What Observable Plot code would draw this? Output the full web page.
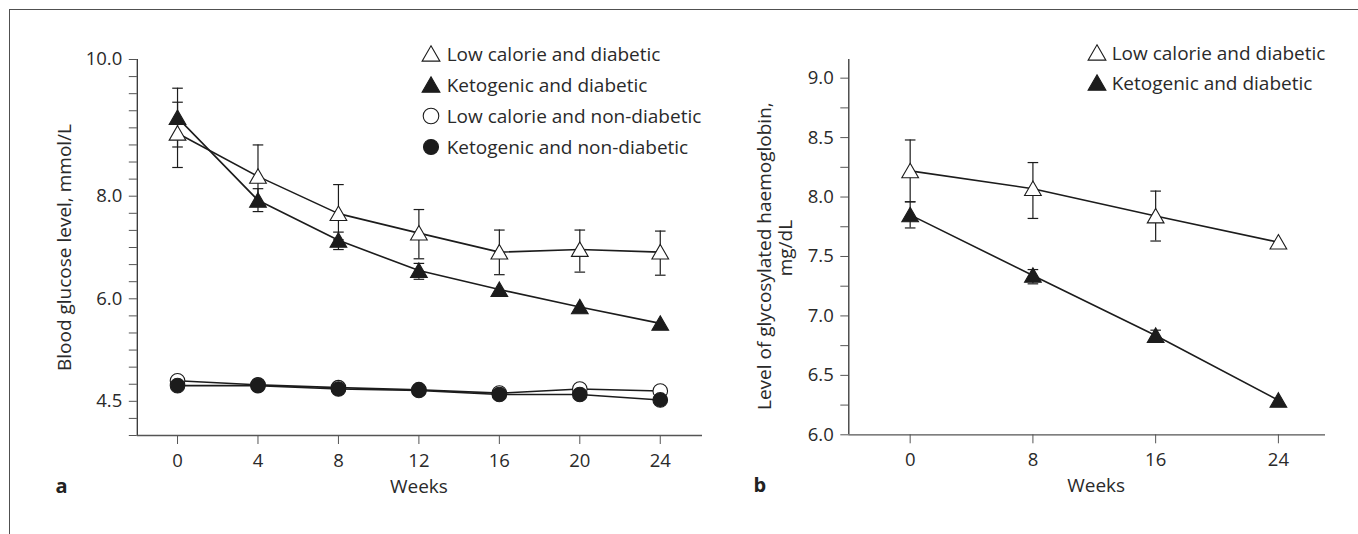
<!DOCTYPE html>
<html><head><meta charset="utf-8">
<script src="https://cdn.jsdelivr.net/npm/d3@7"></script>
<script src="https://cdn.jsdelivr.net/npm/@observablehq/plot@0.6"></script>
<style>
html,body{margin:0;padding:0;background:#fff;}
#wrap{position:relative;width:1358px;height:534px;overflow:hidden;font-family:"Open Sans",sans-serif;color:#2a2a2a;}
#frame{position:absolute;left:9px;top:9px;width:1400px;height:600px;border-top:1.5px solid #505050;border-left:1.5px solid #505050;}
.panel{position:absolute;top:0;}
.legend{position:absolute;font-size:19px;color:#2a2a2a;}
.legend .row{display:flex;align-items:center;white-space:nowrap;}
.legend svg{flex:none;overflow:visible;}
</style></head><body><div id="wrap"><div id="frame"></div></div>
<script>
// ---------- data ----------
const weeksA = [0, 4, 8, 12, 16, 20, 24];
const lcDiab     = [8.92, 8.29, 7.66, 7.28, 6.91, 6.96, 6.91];
const lcDiabLo   = [8.42, 7.83, 7.15, 6.78, 6.47, 6.52, 6.46];
const lcDiabHi   = [9.375, 8.75, 8.17, 7.74, 7.34, 7.34, 7.32];
const ketoDiab   = [9.15, 7.92, 7.14, 6.55, 6.18, 5.88, 5.64];
const ketoDiabLo = [8.72, 7.70, 6.96, 6.38, null, null, null];
const ketoDiabHi = [9.58, 8.11, 7.30, 6.69, null, null, null];
const lcNonDiab   = [4.80, 4.74, 4.70, 4.67, 4.62, 4.68, 4.65];
const ketoNonDiab = [4.73, 4.73, 4.68, 4.66, 4.60, 4.60, 4.52];

const weeksB = [0, 8, 16, 24];
const hbLc     = [8.22, 8.07, 7.84, 7.62];
const hbLcLo   = [7.96, 7.82, 7.63, null];
const hbLcHi   = [8.48, 8.29, 8.05, null];
const hbKeto   = [7.85, 7.34, 6.835, 6.29];
const hbKetoLo = [7.74, 7.27, 6.78, null];
const hbKetoHi = [7.96, 7.39, 6.88, null];

const seriesNames = ["Low calorie and diabetic", "Ketogenic and diabetic", "Low calorie and non-diabetic", "Ketogenic and non-diabetic"];

// axis ticks / labels
const yLabelsA = [4.5, 6.0, 8.0, 10.0];
const yBreaksA = [4, 6, 8, 10];           // piecewise scale breakpoints
const yMinorA = [...d3.range(4, 6, 0.25), ...[0,1,2,3,4,5].map(i => 6 + i / 3), ...d3.range(8, 10.001, 0.25)];
const yLabelsB = [6.0, 6.5, 7.0, 7.5, 8.0, 8.5, 9.0];
const yMinorB = d3.range(6, 9.001, 0.25);
const xTicksA = weeksA;
const xTicksB = weeksB;

// ---------- helpers ----------
function tidy(weeks, v, lo, hi, s) {
  return weeks.map((w, i) => ({week: w, v: v[i], lo: lo ? lo[i] : null, hi: hi ? hi[i] : null, s}));
}
const cap = {draw(ctx) { ctx.moveTo(-5.3, 0); ctx.lineTo(5.3, 0); }};
const INK = "#1c1c1c";
const AX = "#555";
const FONT = "Open Sans, sans-serif";
const FS = 19, TFS = 18.5;

function seriesMarks(d) {
  const err = d.filter(e => e.lo != null);
  return [
    Plot.line(d, {x: "week", y: "v", stroke: INK, strokeWidth: 1.6}),
    Plot.ruleX(err, {x: "week", y1: "lo", y2: "hi", stroke: INK, strokeWidth: 1.2}),
    Plot.dot(err, {x: "week", y: "lo", symbol: cap, r: 5, stroke: INK, strokeWidth: 1.2}),
    Plot.dot(err, {x: "week", y: "hi", symbol: cap, r: 5, stroke: INK, strokeWidth: 1.2}),
  ];
}
function dotMarks(d, symbol, filled, r) {
  return Plot.dot(d, {x: "week", y: "v", symbol, r, fill: filled ? INK : "white", stroke: INK, strokeWidth: 1.1, dy: symbol === "triangle" ? 2 : 0});
}

function axesY(minor, labels, fmt) {
  return [
    Plot.axisY({ticks: minor, tickSize: 8, stroke: AX, tickFormat: () => "", label: null}),
    Plot.axisY({ticks: labels, tickSize: 0, tickPadding: 15, tickFormat: fmt, label: null, fill: "#2a2a2a", fontSize: TFS}),
  ];
}
function axisX(ticks) {
  return Plot.axisX({ticks, tickSize: 9, tickPadding: 9, stroke: AX, tickFormat: d => String(d), label: null, fill: "#2a2a2a", fontSize: TFS});
}

// ---------- panel a ----------
const dA1 = tidy(weeksA, lcDiab, lcDiabLo, lcDiabHi, seriesNames[0]);
const dA2 = tidy(weeksA, ketoDiab, ketoDiabLo, ketoDiabHi, seriesNames[1]);
const dA3 = tidy(weeksA, lcNonDiab, null, null, seriesNames[2]);
const dA4 = tidy(weeksA, ketoNonDiab, null, null, seriesNames[3]);

const plotA = Plot.plot({
  width: 740, height: 534,
  marginLeft: 136.8, marginRight: 38, marginTop: 59, marginBottom: 99,
  style: {fontFamily: FONT, fontSize: FS + "px", color: "#2a2a2a", background: "transparent", overflow: "visible"},
  x: {domain: [-2, 26.1]},
  y: {type: "linear", domain: yBreaksA, range: [435, 298.3, 195.7, 59]},
  marks: [
    ...axesY(yMinorA, yLabelsA, d => d.toFixed(1)),
    axisX(xTicksA),
    Plot.ruleX([-2], {stroke: "#333", strokeWidth: 1.3}),
    Plot.ruleY([4], {stroke: "#555", strokeWidth: 1.3}),
    ...seriesMarks(dA1), ...seriesMarks(dA2), ...seriesMarks(dA3), ...seriesMarks(dA4),
    dotMarks(dA1, "triangle", false, 6.2),
    dotMarks(dA2, "triangle", true, 6.2),
    dotMarks(dA3, "circle", false, 7.3),
    dotMarks(dA4, "circle", true, 7.3),
    Plot.text(["Weeks"], {frameAnchor: "bottom", textAnchor: "middle", dx: -1, dy: 57, fontSize: FS, fill: "#2a2a2a"}),
    Plot.text(["a"], {frameAnchor: "bottom-left", textAnchor: "middle", dx: -75.8, dy: 57, fontSize: 20, fontWeight: "bold", fill: "#222"}),
    Plot.text(["Blood glucose level, mmol/L"], {frameAnchor: "left", textAnchor: "middle", dx: -72, rotate: -90, fontSize: FS, fill: "#2a2a2a"}),
  ]
});
plotA.classList.add("panel");
plotA.style.left = "0px";

// ---------- panel b ----------
const dB1 = tidy(weeksB, hbLc, hbLcLo, hbLcHi, seriesNames[0]);
const dB2 = tidy(weeksB, hbKeto, hbKetoLo, hbKetoHi, seriesNames[1]);

const plotB = Plot.plot({
  width: 618, height: 534,
  marginLeft: 108.3, marginRight: 33, marginTop: 59, marginBottom: 99.7,
  style: {fontFamily: FONT, fontSize: FS + "px", color: "#2a2a2a", background: "transparent", overflow: "visible"},
  x: {domain: [-4, 27.07]},
  y: {domain: [6, 9.157]},
  marks: [
    ...axesY(yMinorB, yLabelsB, d => d.toFixed(1)),
    axisX(xTicksB),
    Plot.ruleX([-4], {stroke: "#333", strokeWidth: 1.3}),
    Plot.ruleY([6], {stroke: "#555", strokeWidth: 1.3}),
    ...seriesMarks(dB1), ...seriesMarks(dB2),
    dotMarks(dB1, "triangle", false, 6.2),
    dotMarks(dB2, "triangle", true, 6.2),
    Plot.text(["Weeks"], {frameAnchor: "bottom", textAnchor: "middle", dx: 9, dy: 57, fontSize: FS, fill: "#2a2a2a"}),
    Plot.text(["b"], {frameAnchor: "bottom-left", textAnchor: "middle", dx: -88.9, dy: 57, fontSize: 20, fontWeight: "bold", fill: "#222"}),
    Plot.text(["Level of glycosylated haemoglobin,"], {frameAnchor: "left", textAnchor: "middle", dx: -84, dy: 9, rotate: -90, fontSize: FS, fill: "#2a2a2a"}),
    Plot.text(["mg/dL"], {frameAnchor: "left", textAnchor: "middle", dx: -63, dy: 1, rotate: -90, fontSize: FS, fill: "#2a2a2a"}),
  ]
});
plotB.classList.add("panel");
plotB.style.left = "740px";

const wrap = document.getElementById("wrap");
wrap.appendChild(plotA);
wrap.appendChild(plotB);

// ---------- legends ----------
function symbolSvg(type, filled, r) {
  const size = Math.PI * r * r;
  const sym = type === "triangle" ? d3.symbolTriangle : d3.symbolCircle;
  const path = d3.symbol(sym, size)();
  const svg = d3.create("svg").attr("width", 20).attr("height", 20).attr("viewBox", "-10 -10 20 20");
  svg.append("path").attr("d", path).attr("transform", type === "triangle" ? "translate(0,2)" : null)
    .attr("fill", filled ? INK : "white").attr("stroke", INK).attr("stroke-width", 1.1);
  return svg.node();
}
function legend(left, top, rowH, items, gap) {
  const div = document.createElement("div");
  div.className = "legend";
  div.style.left = left + "px";
  div.style.top = top + "px";
  items.forEach(([name, type, filled, r]) => {
    const row = document.createElement("div");
    row.className = "row";
    row.style.height = rowH + "px";
    row.appendChild(symbolSvg(type, filled, r));
    const t = document.createElement("span");
    t.textContent = name;
    t.style.marginLeft = gap + "px";
    row.appendChild(t);
    div.appendChild(row);
  });
  wrap.appendChild(div);
}
legend(420.8, 38, 31, [
  [seriesNames[0], "triangle", false, 6.6],
  [seriesNames[1], "triangle", true, 6.6],
  [seriesNames[2], "circle", false, 7.8],
  [seriesNames[3], "circle", true, 7.5],
], 5.9);
legend(1086.7, 38.3, 29.5, [
  [seriesNames[0], "triangle", false, 6.6],
  [seriesNames[1], "triangle", true, 6.6],
], 5);
</script></body></html>
